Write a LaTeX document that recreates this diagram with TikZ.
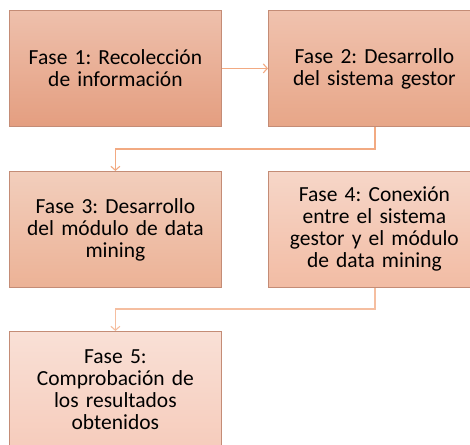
\documentclass[tikz,border=0pt]{standalone}
\usepackage{fontspec}
\setmainfont{Carlito}
\usetikzlibrary{arrows.meta}
\definecolor{bord}{RGB}{196,140,118}
\definecolor{lnk}{RGB}{242,170,130}
\definecolor{lnkb}{RGB}{245,190,160}
\definecolor{aT}{RGB}{238,192,172}
\definecolor{aB}{RGB}{228,158,128}
\definecolor{bT}{RGB}{240,194,174}
\definecolor{bB}{RGB}{231,166,136}
\definecolor{cT}{RGB}{242,206,188}
\definecolor{cB}{RGB}{236,178,150}
\definecolor{dT}{RGB}{246,214,200}
\definecolor{dB}{RGB}{242,188,164}
\definecolor{eT}{RGB}{249,224,214}
\definecolor{eB}{RGB}{246,204,188}
\tikzset{
  phase/.style={draw=bord, line width=0.8pt, minimum width=212pt, minimum height=116pt,
    text width=208pt, align=center, font=\fontsize{21.5}{22}\selectfont\frenchspacing, anchor=north west,
    inner sep=0pt},
  link/.style={draw=lnk, line width=1.1pt, -{Straight Barb[length=4pt,width=9pt]}},
}
\begin{document}
\begin{tikzpicture}[x=1pt,y=-1pt]
\useasboundingbox (0,0) rectangle (470,444);
\clip (0,0) rectangle (470,444);
\node[phase, top color=aT, bottom color=aB] (f1) at (9,10) {Fase 1: Recolección\\de información};
\node[phase, top color=bT, bottom color=bB] (f2) at (268,10) {Fase 2: Desarrollo\\del sistema gestor};
\node[phase, top color=cT, bottom color=cB] (f3) at (9,171) {Fase 3: Desarrollo\\del módulo de data\\mining};
\node[phase, top color=dT, bottom color=dB] (f4) at (268,171) {Fase 4: Conexión\\entre el sistema\\gestor y el módulo\\de data mining};
\node[phase, top color=eT, bottom color=eB] (f5) at (9,331) {Fase 5:\\Comprobación de\\los resultados\\obtenidos};
\coordinate (b2) at (375,149);
\coordinate (b4) at (375,309);
\draw[link] (f1.east) -- (f2.west);
\draw[link] (f2.south -| b2) -- (b2) -- (b2 -| f3.north) -- (f3.north);
\draw[link, draw=lnkb] (f4.south -| b4) -- (b4) -- (b4 -| f5.north) -- (f5.north);
\end{tikzpicture}
\end{document}
